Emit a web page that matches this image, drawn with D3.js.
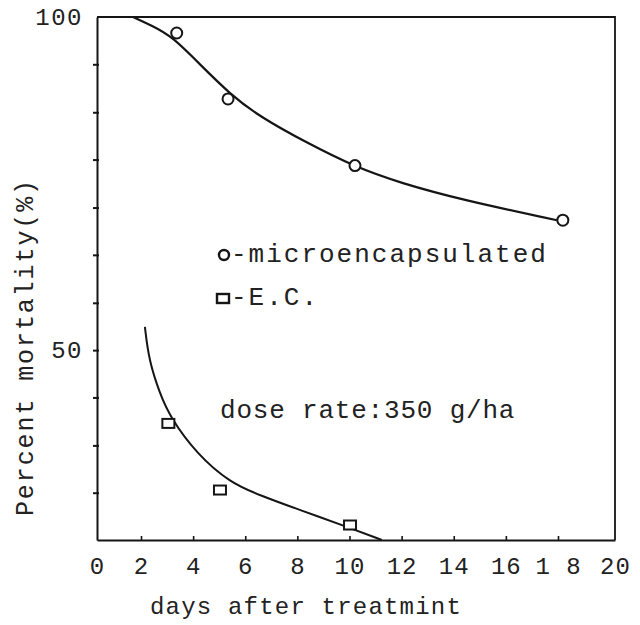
<!DOCTYPE html>
<html>
<head>
<meta charset="utf-8">
<script src="https://cdn.jsdelivr.net/npm/d3@7"></script>
<style>
  html, body { margin: 0; padding: 0; background: #fff; }
  svg { display: block; }
  text { font-family: "Liberation Mono", "DejaVu Sans Mono", monospace; fill: #222; }
</style>
</head>
<body>
<svg id="chart" width="640" height="625"></svg>
<script>
// ---- data ----
const xTickValues = [0, 2, 4, 6, 8, 10, 12, 14, 16, 18, 20];
const xTickLabels = ["0", "2", "4", "6", "8", "10", "12", "14", "16", "1 8", "20"];
const yTickValues = [100, 92.9, 85.7, 78.6, 71.4, 64.3, 57.1, 50, 42.9, 35.7, 28.6];
const yTickLabels = {100: "100", 50: "50"};

// observed points
const microDays = [3.37, 5.34, 10.21, 18.17];
const microMortality = [97.6, 87.7, 77.7, 69.5];
const ecDays = [3.05, 5.03, 10.02];
const ecMortality = [39.0, 29.0, 23.75];

// hand-drawn fitted curves
const microCurveDays = [1.64, 2.42, 3.19, 4.26, 5.42, 6.57, 8.37, 10.21, 11.94, 14.36, 17.96];
const microCurveMort = [100, 98.7, 97.1, 92.9, 88.4, 85.0, 81.1, 77.5, 75.1, 72.5, 69.5];
const ecCurveDays = [2.15, 2.30, 2.73, 3.11, 4.14, 5.42, 6.57, 8.10, 9.89, 11.24];
const ecCurveMort = [53.5, 48.5, 43.4, 40.0, 34.4, 30.1, 28.2, 26.0, 23.5, 21.5];

const legendMicro = "-microencapsulated";
const legendEC = "-E.C.";
const noteText = "dose rate:350 g/ha";
const xTitle = "days after treatmint";
const yTitle = "Percent mortality(%)";

// ---- drawing ----
const svg = d3.select("#chart");
const ink = "#151515";

const x = d3.scaleLinear().domain([0, 2, 18, 20]).range([97, 141, 558, 615]);
const y = d3.scaleLinear().domain([21.5, 100]).range([540, 17]);

const pLeft = x(0), pRight = x(20), pTop = y(100), pBottom = y(21.5);

// frame (top + right)
svg.append("path")
  .attr("d", `M${pLeft},${pTop}H${pRight}V${pBottom}`)
  .attr("fill", "none").attr("stroke", ink).attr("stroke-width", 1.8);

// x axis
const xAxis = d3.axisBottom(x)
  .tickValues(xTickValues)
  .tickSizeInner(-4).tickSizeOuter(0)
  .tickPadding(17)
  .tickFormat((d, i) => xTickLabels[i]);
const gx = svg.append("g").attr("transform", `translate(0,${pBottom})`).call(xAxis);
gx.select(".domain").attr("stroke", ink).attr("stroke-width", 2);
gx.selectAll(".tick line").attr("stroke", ink).attr("stroke-width", 1.6);
gx.selectAll(".tick").filter(d => d === 0 || d === 20).select("line").remove();
gx.selectAll("text").style("font-size", "24px").style("letter-spacing", "1px").attr("fill", "#333");

// y axis
const yAxis = d3.axisLeft(y)
  .tickValues(yTickValues)
  .tickSizeInner(4).tickSizeOuter(0)
  .tickPadding(10)
  .tickFormat(d => yTickLabels[d] || "");
const gy = svg.append("g").attr("transform", `translate(${pLeft},0)`).call(yAxis);
gy.select(".domain").attr("stroke", ink).attr("stroke-width", 2);
gy.selectAll(".tick line").attr("x2", -4).attr("x1", 2).attr("stroke", ink).attr("stroke-width", 2);
gy.selectAll(".tick").filter(d => d === 100).select("line").remove();
gy.selectAll("text").style("font-size", "24px").style("letter-spacing", "1.5px").attr("fill", "#333");

// curves
const line = d3.line().x(d => x(d[0])).y(d => y(d[1])).curve(d3.curveBasis);
svg.append("path")
  .attr("d", line(microCurveDays.map((d, i) => [d, microCurveMort[i]])))
  .attr("fill", "none").attr("stroke", ink).attr("stroke-width", 2.2);
svg.append("path")
  .attr("d", line(ecCurveDays.map((d, i) => [d, ecCurveMort[i]])))
  .attr("fill", "none").attr("stroke", ink).attr("stroke-width", 2);

// markers
svg.append("g").selectAll("circle")
  .data(microDays.map((d, i) => [d, microMortality[i]]))
  .join("circle")
  .attr("cx", d => x(d[0])).attr("cy", d => y(d[1])).attr("r", 5.5)
  .attr("fill", "#fff").attr("stroke", ink).attr("stroke-width", 2);

svg.append("g").selectAll("rect")
  .data(ecDays.map((d, i) => [d, ecMortality[i]]))
  .join("rect")
  .attr("x", d => x(d[0]) - 6).attr("y", d => y(d[1]) - 4.5)
  .attr("width", 12).attr("height", 9)
  .attr("fill", "#fff").attr("stroke", ink).attr("stroke-width", 2);

// legend
svg.append("circle").attr("cx", 224).attr("cy", 255).attr("r", 5)
  .attr("fill", "none").attr("stroke", ink).attr("stroke-width", 2.4);
svg.append("text").attr("x", 231).attr("y", 262)
  .style("font-size", "26px").style("letter-spacing", "2px").text(legendMicro);
svg.append("rect").attr("x", 217).attr("y", 294).attr("width", 12).attr("height", 9)
  .attr("fill", "none").attr("stroke", ink).attr("stroke-width", 2.4);
svg.append("text").attr("x", 231).attr("y", 305)
  .style("font-size", "26px").style("letter-spacing", "2px").text(legendEC);

svg.append("text").attr("x", 220).attr("y", 418)
  .style("font-size", "26px").style("letter-spacing", "0.8px").text(noteText);

// axis titles
svg.append("text").attr("x", 306).attr("y", 614).attr("text-anchor", "middle")
  .style("font-size", "24px").style("letter-spacing", "1.2px").attr("fill", "#333").text(xTitle);
svg.append("text").attr("transform", "translate(33,347) rotate(-90)").attr("text-anchor", "middle")
  .style("font-size", "25px").style("letter-spacing", "1.9px").attr("fill", "#333").text(yTitle);
</script>
</body>
</html>
